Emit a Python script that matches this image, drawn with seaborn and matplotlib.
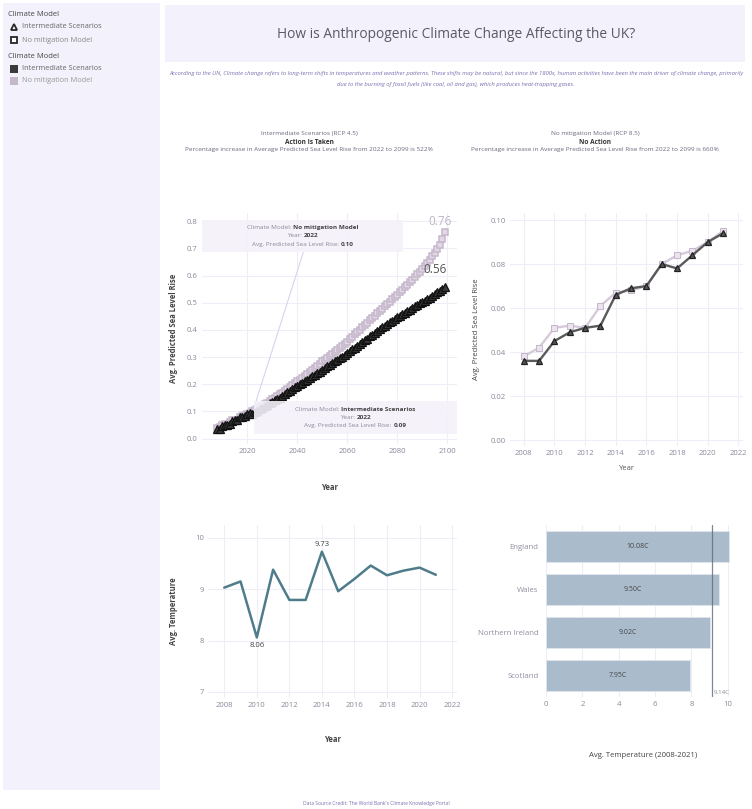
"""How is Anthropogenic Climate Change Affecting the UK? - dashboard recreation."""

import matplotlib
matplotlib.use("Agg")
import matplotlib.pyplot as plt
import matplotlib.patches as mpatches
from matplotlib.lines import Line2D
from matplotlib.transforms import ScaledTranslation
import numpy as np
import seaborn as sns


FIG_W, FIG_H = 752, 809

# --- data -------------------------------------------------------------
MODELS = ["Intermediate Scenarios", "No mitigation Model"]
SCENARIO_NAMES = ["Intermediate Scenarios (RCP 4.5)", "No mitigation Model (RCP 8.5)"]
SCENARIO_ACTIONS = ["Action Is Taken", "No Action"]
PCT_INCREASE = [522, 660]

SEA_YEARS = list(range(2008, 2100))
SEA_INTERMEDIATE = [
    0.036, 0.036, 0.045, 0.049, 0.051, 0.052, 0.066, 0.069, 0.070, 0.080,
    0.078, 0.084, 0.090, 0.094, 0.090, 0.097, 0.101, 0.108, 0.112, 0.119,
    0.124, 0.131, 0.136, 0.142, 0.147, 0.151, 0.158, 0.163, 0.170, 0.174,
    0.181, 0.188, 0.193, 0.199, 0.204, 0.212, 0.216, 0.223, 0.229, 0.234,
    0.242, 0.246, 0.253, 0.259, 0.266, 0.270, 0.278, 0.284, 0.290, 0.297,
    0.301, 0.309, 0.315, 0.321, 0.329, 0.334, 0.342, 0.348, 0.355, 0.362,
    0.368, 0.376, 0.381, 0.389, 0.395, 0.402, 0.409, 0.414, 0.422, 0.428,
    0.434, 0.441, 0.447, 0.452, 0.458, 0.463, 0.470, 0.474, 0.480, 0.486,
    0.491, 0.497, 0.502, 0.508, 0.514, 0.519, 0.526, 0.531, 0.538, 0.543,
    0.551, 0.558,
]
SEA_NO_MITIGATION = [
    0.038, 0.042, 0.051, 0.052, 0.051, 0.061, 0.067, 0.068, 0.070, 0.080,
    0.084, 0.086, 0.090, 0.095, 0.100, 0.104, 0.109, 0.115, 0.120, 0.127,
    0.132, 0.139, 0.145, 0.151, 0.157, 0.164, 0.169, 0.176, 0.183, 0.189,
    0.196, 0.203, 0.210, 0.216, 0.224, 0.231, 0.238, 0.246, 0.253, 0.261,
    0.268, 0.276, 0.284, 0.290, 0.298, 0.305, 0.312, 0.320, 0.327, 0.335,
    0.342, 0.349, 0.357, 0.366, 0.374, 0.383, 0.391, 0.400, 0.409, 0.418,
    0.427, 0.436, 0.444, 0.452, 0.461, 0.469, 0.478, 0.486, 0.495, 0.503,
    0.512, 0.520, 0.529, 0.538, 0.547, 0.557, 0.566, 0.576, 0.585, 0.595,
    0.604, 0.614, 0.624, 0.635, 0.646, 0.658, 0.670, 0.683, 0.697, 0.712,
    0.733, 0.760,
]
RECENT_YEARS = list(range(2008, 2022))

TEMP_YEARS = list(range(2008, 2022))
TEMP_VALUES = [9.03, 9.15, 8.06, 9.38, 8.79, 8.79, 9.73, 8.96, 9.20, 9.46,
               9.27, 9.36, 9.42, 9.28]

REGIONS = ["England", "Wales", "Northern Ireland", "Scotland"]
REGION_TEMPS = [10.08, 9.50, 9.02, 7.95]
UK_AVG_TEMP = 9.14

HOVER_NO_MIT = ("No mitigation Model", "2022", "0.10")
HOVER_INTERMEDIATE = ("Intermediate Scenarios", "2022", "0.09")

# --- colours ----------------------------------------------------------
DARK = "#262626"
DARK_LINE = "#5a5a5a"
LIGHT = "#c6b8cb"
LIGHT_FACE = "#e2d8e6"
TEAL = "#4f7c8a"
BAR = "#aabccb"
GRID = "#efeef8"
TICK = "#8b8a9c"
LAVENDER = "#f3f2fc"
PURPLE_TEXT = "#7b6fb0"


def px_axes(fig, x0, y0, x1, y1):
    """Pixel box (top-left origin) -> figure axes."""
    return fig.add_axes([x0 / FIG_W, 1 - y1 / FIG_H, (x1 - x0) / FIG_W, (y1 - y0) / FIG_H])


def style_axes(ax):
    for s in ax.spines.values():
        s.set_visible(False)
    ax.set_facecolor("white")
    ax.grid(True, color=GRID, linewidth=0.8)
    ax.set_axisbelow(True)
    ax.tick_params(length=0, labelsize=5.6, labelcolor=TICK, pad=3)


def mixed_line(fig, ax, x, y, parts, size=4.6, color="#8a8a9a", zorder=6):
    """Centre a line of (text, weight) parts on x, y (data coords)."""
    renderer = fig.canvas.get_renderer()
    texts = [ax.text(x, y, s, fontsize=size, fontweight=w, color=color if w == "normal" else "#444444",
                     ha="left", va="center", zorder=zorder) for s, w in parts]
    widths = [t.get_window_extent(renderer).width for t in texts]
    offset = -sum(widths) / 2
    for t, w in zip(texts, widths):
        t.set_transform(ax.transData + ScaledTranslation(offset / fig.dpi, 0, fig.dpi_scale_trans))
        offset += w


def hover_box(fig, ax, x0, x1, y0, y1, info):
    model, year, value = info
    ax.add_patch(mpatches.Rectangle((x0, y0), x1 - x0, y1 - y0, facecolor="#f4f1fa",
                                    edgecolor="none", alpha=0.9, zorder=5, clip_on=False))
    xc = (x0 + x1) / 2
    step = (y1 - y0) / 4
    mixed_line(fig, ax, xc, y1 - step, [("Climate Model: ", "normal"), (model, "bold")])
    mixed_line(fig, ax, xc, y1 - 2 * step, [("Year: ", "normal"), (year, "bold")])
    mixed_line(fig, ax, xc, y1 - 3 * step, [("Avg. Predicted Sea Level Rise: ", "normal"), (value, "bold")])


def main():
    sns.set_theme(style="white")
    plt.rcParams["font.family"] = ["Open Sans", "DejaVu Sans"]

    fig = plt.figure(figsize=(FIG_W / 100, FIG_H / 100), dpi=100)
    fig.patch.set_facecolor("white")

    # sidebar and title band
    fig.add_artist(mpatches.Rectangle((3 / FIG_W, 1 - 790 / FIG_H), 157 / FIG_W, 787 / FIG_H,
                                      transform=fig.transFigure, facecolor=LAVENDER, edgecolor="none"))
    fig.add_artist(mpatches.Rectangle((165 / FIG_W, 1 - 62 / FIG_H), 580 / FIG_W, 57 / FIG_H,
                                      transform=fig.transFigure, facecolor=LAVENDER, edgecolor="none"))
    fig.text(456 / FIG_W, 1 - 34 / FIG_H, "How is Anthropogenic Climate Change Affecting the UK?",
             ha="center", va="center", fontsize=9.9, color="#5a5a66")
    fig.text(456 / FIG_W, 1 - 79 / FIG_H,
             "According to the UN, Climate change refers to long-term shifts in temperatures and weather patterns. "
             "These shifts may be natural, but since the 1800s, human activities have been the main driver of climate change, primarily\n"
             "due to the burning of fossil fuels (like coal, oil and gas), which produces heat-trapping gases.",
             ha="center", va="center", fontsize=4.2, style="italic", color=PURPLE_TEXT, linespacing=2.5)

    # legend in the sidebar
    fig.text(8 / FIG_W, 1 - 15 / FIG_H, "Climate Model", fontsize=5.5, color="#444444", va="center")
    fig.text(8 / FIG_W, 1 - 57 / FIG_H, "Climate Model", fontsize=5.5, color="#444444", va="center")
    leg_marks = [("^", 27, DARK, "white", MODELS[0], "#666666"),
                 ("s", 40, DARK, "white", MODELS[1], "#888888")]
    for mk, y, ec, fc, label, tc in leg_marks:
        fig.add_artist(Line2D([14 / FIG_W], [1 - y / FIG_H], marker=mk, markersize=4.5,
                              markeredgecolor=ec, markerfacecolor=fc, markeredgewidth=1.3,
                              transform=fig.transFigure))
        fig.text(22 / FIG_W, 1 - y / FIG_H, label, fontsize=5.3, color=tc, va="center")
    for y, col, label, tc in [(69, "#3a3a3a", MODELS[0], "#666666"), (81, LIGHT, MODELS[1], "#999999")]:
        fig.add_artist(mpatches.Rectangle((10 / FIG_W, 1 - (y + 4) / FIG_H), 8 / FIG_W, 8 / FIG_H,
                                          transform=fig.transFigure, facecolor=col, edgecolor="none"))
        fig.text(22 / FIG_W, 1 - y / FIG_H, label, fontsize=5.3, color=tc, va="center")

    # subplot titles
    for xc, head, sub, pct in zip([309, 595], SCENARIO_NAMES, SCENARIO_ACTIONS, PCT_INCREASE):
        fig.text(xc / FIG_W, 1 - 134 / FIG_H, head, ha="center", va="center", fontsize=4.6, color="#6a6a80")
        fig.text(xc / FIG_W, 1 - 142 / FIG_H, sub, ha="center", va="center", fontsize=4.7,
                 fontweight="bold", color="#333333")
        fig.text(xc / FIG_W, 1 - 150 / FIG_H,
                 f"Percentage increase in Average Predicted Sea Level Rise from 2022 to 2099 is {pct}%",
                 ha="center", va="center", fontsize=4.6, color="#6a6a80")

    # --- top-left: sea level rise to 2099 --------------------------------
    ax1 = px_axes(fig, 202, 213, 457, 444)
    style_axes(ax1)
    sns.lineplot(x=SEA_YEARS, y=SEA_NO_MITIGATION, ax=ax1, color=LIGHT, marker="s", markersize=5,
                 markerfacecolor=LIGHT_FACE, markeredgecolor=LIGHT, markeredgewidth=1.1, linewidth=1)
    sns.lineplot(x=SEA_YEARS, y=SEA_INTERMEDIATE, ax=ax1, color=DARK, marker="^", markersize=5.5,
                 markerfacecolor="#3a3a3a", markeredgecolor="#111111", markeredgewidth=0.9, linewidth=1)
    ax1.set_xlim(2002, 2104)
    ax1.set_ylim(-0.02, 0.83)
    ax1.set_xticks([2020, 2040, 2060, 2080, 2100])
    ax1.set_yticks(np.arange(0, 0.81, 0.1))
    ax1.set_yticklabels([f"{v:.1f}" for v in np.arange(0, 0.81, 0.1)])
    ax1.annotate(f"{SEA_NO_MITIGATION[-1]:.2f}", (SEA_YEARS[-1], SEA_NO_MITIGATION[-1]),
                 xytext=(-3, 3), textcoords="offset points", ha="center", va="bottom",
                 fontsize=8.5, color="#c0b3c7")
    ax1.annotate(f"{SEA_INTERMEDIATE[-1]:.2f}", (SEA_YEARS[-1], SEA_INTERMEDIATE[-1]),
                 xytext=(-7, 8), textcoords="offset points", ha="center", va="bottom",
                 fontsize=8.5, color="#555555")
    ax1.plot([2042.5, 2022.5], [0.685, 0.105], color="#d8d3ee", linewidth=0.8, zorder=4)
    hover_box(fig, ax1, 2002, 2082.5, 0.685, 0.806, HOVER_NO_MIT)
    hover_box(fig, ax1, 2022.7, 2104, 0.017, 0.138, HOVER_INTERMEDIATE)
    ax1.set_xlabel("Year", fontsize=5.5, color="#444444", fontweight="bold")
    ax1.set_ylabel("Avg. Predicted Sea Level Rise", fontsize=5.5, color="#444444", fontweight="bold")
    ax1.xaxis.set_label_coords(0.5, -39 / 231)
    ax1.yaxis.set_label_coords(-24 / 255, 0.5)

    # --- top-right: recent sea level rise ---------------------------------
    n = len(RECENT_YEARS)
    ax2 = px_axes(fig, 510, 213, 743, 446)
    style_axes(ax2)
    sns.lineplot(x=RECENT_YEARS, y=SEA_NO_MITIGATION[:n], ax=ax2, color="#d6cadb", marker="s",
                 markersize=4.5, markerfacecolor="#ebe3ee", markeredgecolor="#c6b8cc", linewidth=1.7)
    sns.lineplot(x=RECENT_YEARS, y=SEA_INTERMEDIATE[:n], ax=ax2, color=DARK_LINE, marker="^",
                 markersize=5, markerfacecolor="#555555", markeredgecolor="#222222",
                 markeredgewidth=0.9, linewidth=1.7)
    ax2.set_xlim(2007.1, 2022.3)
    ax2.set_ylim(-0.0027, 0.1032)
    ax2.set_xticks(range(2008, 2023, 2))
    ax2.set_yticks(np.arange(0, 0.101, 0.02))
    ax2.set_yticklabels([f"{v:.2f}" for v in np.arange(0, 0.101, 0.02)])
    ax2.set_xlabel("Year", fontsize=5.5, color="#555555")
    ax2.set_ylabel("Avg. Predicted Sea Level Rise", fontsize=5.5, color="#444444")
    ax2.xaxis.set_label_coords(0.5, -19 / 233)
    ax2.yaxis.set_label_coords(-30 / 233, 0.5)

    # --- bottom-left: average temperature -------------------------------
    ax3 = px_axes(fig, 208, 525, 457, 698)
    style_axes(ax3)
    sns.lineplot(x=TEMP_YEARS, y=TEMP_VALUES, ax=ax3, color=TEAL, linewidth=1.8)
    ax3.set_xlim(2007.0, 2022.3)
    ax3.set_ylim(6.88, 10.25)
    ax3.set_xticks(range(2008, 2023, 2))
    ax3.set_yticks([7, 8, 9, 10])
    i_max, i_min = int(np.argmax(TEMP_VALUES)), int(np.argmin(TEMP_VALUES))
    ax3.annotate(f"{TEMP_VALUES[i_max]:.2f}", (TEMP_YEARS[i_max], TEMP_VALUES[i_max]),
                 xytext=(0, 3), textcoords="offset points", ha="center", va="bottom",
                 fontsize=5.6, color="#444444")
    ax3.annotate(f"{TEMP_VALUES[i_min]:.2f}", (TEMP_YEARS[i_min], TEMP_VALUES[i_min]),
                 xytext=(0, -3), textcoords="offset points", ha="center", va="top",
                 fontsize=5.6, color="#444444")
    ax3.set_xlabel("Year", fontsize=5.5, color="#444444", fontweight="bold")
    ax3.set_ylabel("Avg. Temperature", fontsize=5.5, color="#444444", fontweight="bold")
    ax3.xaxis.set_label_coords(0.5, -37 / 173)
    ax3.yaxis.set_label_coords(-30 / 249, 0.5)

    # --- bottom-right: average temperature by region ---------------------
    ax4 = px_axes(fig, 544, 525, 743, 697)
    style_axes(ax4)
    ax4.grid(axis="y", visible=False)
    sns.barplot(x=REGION_TEMPS, y=REGIONS, orient="h", color=BAR, saturation=1, width=0.74,
                edgecolor="#dfe6ee", linewidth=0.6, ax=ax4)
    ax4.bar_label(ax4.containers[0], labels=[f"{v:.2f}C" for v in REGION_TEMPS],
                  label_type="center", fontsize=5, color="#444444")
    ax4.axvline(UK_AVG_TEMP, color="#5d6b7a", linewidth=0.9, alpha=0.8)
    ax4.text(UK_AVG_TEMP + 0.1, 3.45, f"{UK_AVG_TEMP:.2f}C", fontsize=4.4, color="#8a8a9a",
             ha="left", va="bottom")
    ax4.set_xlim(-0.11, 10.84)
    ax4.set_xticks(range(0, 11, 2))
    ax4.tick_params(axis="y", pad=4, labelcolor="#9190a2")
    ax4.set_xlabel("Avg. Temperature (2008-2021)", fontsize=5.6, color="#444444")
    ax4.set_ylabel("")
    ax4.xaxis.set_label_coords(0.5, -55 / 172)

    fig.text(376 / FIG_W, 1 - 803 / FIG_H, "Data Source Credit: The World Bank's Climate Knowledge Portal",
             ha="center", va="center", fontsize=3.6, color=PURPLE_TEXT)

    fig.savefig("out.png", dpi=100, facecolor="white")


if __name__ == "__main__":
    main()
